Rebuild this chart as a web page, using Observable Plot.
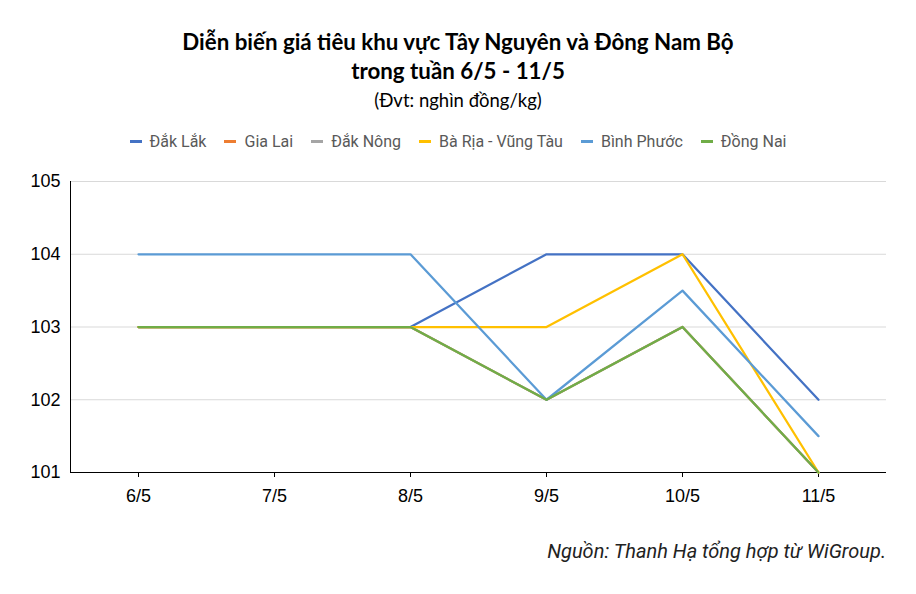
<!DOCTYPE html>
<html><head><meta charset="utf-8">
<script src="https://cdn.jsdelivr.net/npm/d3@7"></script>
<script src="https://cdn.jsdelivr.net/npm/@observablehq/plot@0.6"></script>
<style>
body{margin:0;background:#fff;width:916px;height:594px;overflow:hidden;font-family:Roboto,sans-serif}
#title{position:absolute;top:27px;left:0;width:916px;text-align:center;font-family:Lato,sans-serif;font-weight:bold;font-size:22.3px;line-height:29px;color:#000}
#sub{position:absolute;top:89px;left:0;width:916px;text-align:center;font-family:Lato,sans-serif;font-size:18.5px;color:#000}
#legend{position:absolute;top:132px;left:0;width:916px;display:flex;justify-content:center;gap:18px;font-size:16px;color:#595959}
#legend .it{display:flex;align-items:center;gap:8px}
#legend .sw{width:12px;height:3px}
#chart{position:absolute;top:165px;left:0}
#cap{position:absolute;top:539px;right:30px;font-style:italic;font-size:20px;color:#222}
</style></head><body>
<div id="title">Diễn biến giá tiêu khu vực Tây Nguyên và Đông Nam Bộ<br>trong tuần 6/5 - 11/5</div>
<div id="sub">(Đvt: nghìn đồng/kg)</div>
<div id="legend"></div>
<div id="chart"></div>
<div id="cap">Nguồn: Thanh Hạ tổng hợp từ WiGroup.</div>
<script>
const dates = ["6/5","7/5","8/5","9/5","10/5","11/5"];
const seriesNames = ["Đắk Lắk","Gia Lai","Đắk Nông","Bà Rịa - Vũng Tàu","Bình Phước","Đồng Nai"];
const colors = ["#4472C4","#ED7D31","#A5A5A5","#FFC000","#5B9BD5","#70AD47"];
const dakLak    = [103,103,103,104,104,102];
const giaLai    = [103,103,103,102,103,101];
const dakNong   = [103,103,103,102,103,101];
const baRia     = [103,103,103,103,104,101];
const binhPhuoc = [104,104,104,102,103.5,101.5];
const dongNai   = [103,103,103,102,103,101];
const yTicks = [101,102,103,104,105];

const values = [dakLak, giaLai, dakNong, baRia, binhPhuoc, dongNai];
const data = [];
seriesNames.forEach((s, i) => dates.forEach((d, j) => data.push({series: s, date: d, value: values[i][j]})));

const leg = document.getElementById("legend");
seriesNames.forEach((s, i) => {
  const it = document.createElement("div"); it.className = "it";
  const sw = document.createElement("span"); sw.className = "sw"; sw.style.background = colors[i];
  const t = document.createElement("span"); t.textContent = s;
  it.append(sw, t); leg.append(it);
});

const chart = Plot.plot({
  width: 916, height: 355,
  marginLeft: 70, marginRight: 30, marginTop: 16, marginBottom: 48,
  style: {fontFamily: "'Liberation Sans', Arial, sans-serif", fontSize: "18px", color: "#000", background: "#fff"},
  x: {type: "point", domain: dates, padding: 0.5, label: null},
  y: {domain: [101, 105], label: null},
  color: {domain: seriesNames, range: colors},
  marks: [
    Plot.ruleY(yTicks.slice(1), {stroke: "#d9d9d9", strokeWidth: 1}),
    Plot.frame({anchor: "left", stroke: "#000"}),
    Plot.ruleY([101], {stroke: "#000", strokeWidth: 1}),
    Plot.axisY({ticks: yTicks, tickFormat: d => String(d), tickSize: 0, tickPadding: 10, fontSize: 18, fill: "#000"}),
    Plot.axisX({tickSize: 5, tickPadding: 12, fontSize: 18, fill: "#000", stroke: "#000"}),
    Plot.line(data, {x: "date", y: "value", z: "series", stroke: "series", strokeWidth: 2.25, strokeLinejoin: "round"})
  ]
});
document.getElementById("chart").append(chart);
</script>
</body></html>
